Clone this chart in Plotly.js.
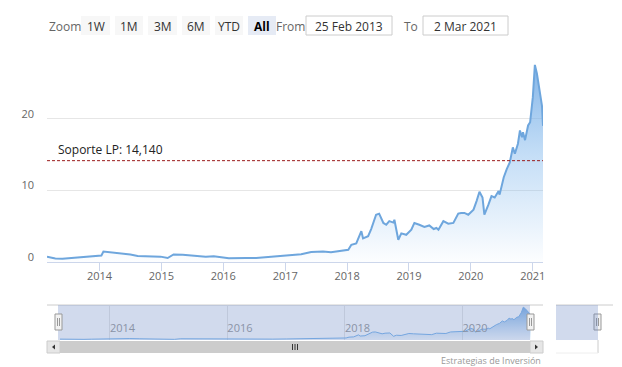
<!DOCTYPE html>
<html><head><meta charset="utf-8">
<script src="https://cdn.plot.ly/plotly-3.0.1.min.js"></script>
<style>html,body{margin:0;padding:0;background:#fff}#chart{width:622px;height:367px}</style>
</head><body><div id="chart"></div>
<script>
const dates = ['2013-02-25','2013-04-15','2013-05-27','2013-07-24','2013-09-10','2013-10-28','2013-12-25','2014-01-12','2014-01-24','2014-03-07','2014-05-05','2014-07-02','2014-08-14','2014-10-17','2014-12-27','2015-02-07','2015-03-14','2015-05-07','2015-07-23','2015-09-20','2015-11-06','2016-02-03','2016-05-15','2016-07-13','2016-10-10','2017-01-04','2017-03-07','2017-04-05','2017-06-03','2017-08-12','2017-09-28','2017-11-27','2018-01-08','2018-01-26','2018-02-24','2018-03-26','2018-04-05','2018-05-05','2018-05-23','2018-06-21','2018-07-09','2018-08-03','2018-08-20','2018-09-07','2018-10-01','2018-10-07','2018-10-30','2018-11-17','2018-12-16','2019-01-15','2019-02-02','2019-03-03','2019-04-02','2019-05-01','2019-05-27','2019-06-12','2019-06-24','2019-07-23','2019-08-21','2019-09-20','2019-10-19','2019-11-05','2019-11-24','2019-12-17','2020-01-17','2020-02-04','2020-02-21','2020-03-10','2020-03-21','2020-04-14','2020-05-02','2020-05-21','2020-06-13','2020-06-19','2020-07-13','2020-07-31','2020-08-18','2020-09-05','2020-09-17','2020-10-05','2020-10-17','2020-10-29','2020-11-04','2020-11-16','2020-12-04','2020-12-16','2021-01-01','2021-01-13','2021-01-25','2021-02-06','2021-02-18','2021-02-24','2021-03-02'];
const values = [0.75,0.5,0.46,0.55,0.7,0.8,0.85,0.9,1.45,1.35,1.2,1.05,0.85,0.8,0.75,0.55,1.05,1.0,0.9,0.75,0.8,0.52,0.55,0.56,0.75,0.89,1.0,1.08,1.4,1.45,1.35,1.5,1.7,2.4,2.6,4.3,3.3,3.6,4.6,6.6,6.75,5.45,5.2,5.7,5.5,5.9,3.1,4.0,3.8,4.5,5.45,5.2,4.9,5.1,4.6,4.75,4.5,5.7,5.35,5.45,6.75,6.85,6.85,6.6,7.3,8.5,9.8,9.0,6.6,8.0,9.2,9.0,9.9,9.4,11.8,12.95,13.9,16.0,15.1,16.5,18.35,17.4,18.1,17.0,19.05,19.5,23.0,27.5,26.3,24.5,22.6,21.8,19.0];
const xTickVals = ['2014-01-01','2015-01-01','2016-01-01','2017-01-01','2018-01-01','2019-01-01','2020-01-01','2021-01-01'];
const xTickText = ['2014','2015','2016','2017','2018','2019','2020','2021'];
const navTickVals = ['2014-01-01','2016-01-01','2018-01-01','2020-01-01'];
const navTickText = ['2014','2016','2018','2020'];
const yTickVals = [0,10,20,30];
const yTickText = ['0','10','20',''];
const supportValue = 14.14;
const supportLabel = 'Soporte LP: 14,140';
const zoomButtons = ['1W','1M','3M','6M','YTD','All'];
const fromDate = '25 Feb 2013';
const toDate = '2 Mar 2021';
const creditText = 'Estrategias de Inversión';

const W = 622, H = 367;
const X = p => p / W, Y = p => 1 - p / H;
const FONT = 'Open Sans, Arial, sans-serif';
const startDate = dates[0], endDate = dates[dates.length - 1];

const traces = [
  {x: dates, y: values, type: 'scatter', mode: 'lines', xaxis: 'x', yaxis: 'y',
   line: {color: '#6ea6dd', width: 2}, fill: 'tozeroy',
   fillgradient: {type: 'vertical', start: 0, stop: 30,
     colorscale: [[0, 'rgba(124,181,236,0.02)'], [0.5, 'rgba(124,181,236,0.45)'], [1, 'rgba(110,166,225,0.95)']]},
   hoverinfo: 'skip'},
  {x: dates, y: values, type: 'scatter', mode: 'lines', xaxis: 'x2', yaxis: 'y2',
   line: {color: '#7cb5ec', width: 1}, fill: 'tozeroy',
   fillgradient: {type: 'vertical', start: 0, stop: 28,
     colorscale: [[0, 'rgba(124,181,236,0.05)'], [1, 'rgba(110,166,225,0.9)']]},
   hoverinfo: 'skip'}
];

const shapes = [];
const annotations = [];
function rect(x0, y0, x1, y1, fill, line, lw, layer) {
  shapes.push({type: 'rect', xref: 'paper', yref: 'paper', x0: X(x0), x1: X(x1), y0: Y(y1), y1: Y(y0),
    fillcolor: fill, line: {color: line || 'rgba(0,0,0,0)', width: lw || 0}, layer: layer || 'above'});
}
function hline(x0, x1, y, color, w) {
  shapes.push({type: 'line', xref: 'paper', yref: 'paper', x0: X(x0), x1: X(x1), y0: Y(y), y1: Y(y), line: {color: color, width: w || 1}});
}
function vline(x, y0, y1, color, w) {
  shapes.push({type: 'line', xref: 'paper', yref: 'paper', x0: X(x), x1: X(x), y0: Y(y0), y1: Y(y1), line: {color: color, width: w || 1}});
}
function text(t, x, y, opts) {
  annotations.push(Object.assign({text: t, xref: 'paper', yref: 'paper', x: X(x), y: Y(y), showarrow: false,
    xanchor: 'left', yanchor: 'middle', font: {family: FONT, size: 12, color: '#333333'}}, opts || {}));
}

// support line
shapes.push({type: 'line', xref: 'paper', yref: 'y', x0: X(47), x1: X(543), y0: supportValue, y1: supportValue,
  line: {color: '#9b1c1c', width: 1, dash: '3px,2px'}});
annotations.push({text: supportLabel, xref: 'paper', yref: 'y', x: X(56), y: supportValue, yshift: 1,
  xanchor: 'left', yanchor: 'bottom', showarrow: false, font: {family: FONT, size: 12, color: '#222222'}});

// range selector
text('Zoom', 47, 26, {font: {family: FONT, size: 12, color: '#666666'}});
const btnX = [[81,110],[115,143],[148,177],[182,210],[215,243],[248,276]];
zoomButtons.forEach((b, i) => {
  const sel = i === zoomButtons.length - 1;
  rect(btnX[i][0], 16, btnX[i][1], 35, sel ? '#e6ebf5' : '#f7f7f7', null, 0, 'below');
  text(sel ? '<b>' + b + '</b>' : b, (btnX[i][0] + btnX[i][1]) / 2, 26,
       {xanchor: 'center', font: {family: FONT, size: 12, color: sel ? '#000000' : '#333333'}});
});
text('From', 274, 26, {font: {family: FONT, size: 12, color: '#666666'}});
rect(306, 16, 392, 35, '#ffffff', '#cccccc', 1, 'below');
text(fromDate, 349, 26, {xanchor: 'center'});
text('To', 402, 26, {font: {family: FONT, size: 12, color: '#666666'}});
rect(423, 16, 508, 35, '#ffffff', '#cccccc', 1, 'below');
text(toDate, 465.5, 26, {xanchor: 'center'});

// navigator
hline(47, 543, 305, '#cccccc');
rect(58, 305, 530, 340, 'rgba(102,133,194,0.3)', null, 0, 'above');
[[55,62],[527,534],[594,601]].forEach(h => {
  rect(h[0], 314, h[1], 330, '#f2f2f2', '#999999', 1, 'above');
  vline(h[0] + 2.5, 318, 326, '#999999');
  vline(h[0] + 4.5, 318, 326, '#999999');
});
// scrollbar
rect(47, 341, 543, 353, '#cccccc', null, 0, 'above');
rect(47, 341, 60, 353, '#e6e6e6', '#cccccc', 1, 'above');
rect(530, 341, 543, 353, '#e6e6e6', '#cccccc', 1, 'above');
shapes.push({type: 'path', xref: 'paper', yref: 'paper', path: `M ${X(52)} ${Y(347)} L ${X(55)} ${Y(344.5)} L ${X(55)} ${Y(349.5)} Z`, fillcolor: '#333333', line: {width: 0}});
shapes.push({type: 'path', xref: 'paper', yref: 'paper', path: `M ${X(538)} ${Y(347)} L ${X(535)} ${Y(344.5)} L ${X(535)} ${Y(349.5)} Z`, fillcolor: '#333333', line: {width: 0}});
[292.5, 295, 297.5].forEach(g => vline(g, 344, 350, '#333333'));
// extra navigator piece on the right
hline(556, 613, 305, '#cccccc');
rect(556, 305, 598, 340, 'rgba(102,133,194,0.3)', null, 0, 'above');
rect(556, 340, 598, 353, '#ffffff', null, 0, 'above');
vline(598, 340, 353, '#cccccc');
hline(556, 598, 353, '#eeeeee');

// credits
annotations.push({text: creditText, xref: 'paper', yref: 'paper', x: X(543), y: Y(360), xanchor: 'right', yanchor: 'middle',
  showarrow: false, font: {family: FONT, size: 9, color: '#999999'}});

const layout = {
  width: W, height: H, margin: {l: 0, r: 0, t: 0, b: 0},
  paper_bgcolor: '#ffffff', plot_bgcolor: 'rgba(0,0,0,0)', showlegend: false,
  font: {family: FONT, color: '#666666'},
  xaxis: {domain: [X(47), X(543)], type: 'date', range: [startDate, endDate], anchor: 'y',
    tickmode: 'array', tickvals: xTickVals, ticktext: xTickText, showgrid: false, zeroline: false,
    showline: true, linecolor: '#ccd6eb', linewidth: 1, ticks: 'outside', ticklen: 8, tickcolor: '#ccd6eb',
    ticklabelstandoff: -4,
    tickfont: {family: FONT, size: 11, color: '#666666'}, fixedrange: true},
  yaxis: {domain: [Y(262), Y(47)], range: [0, 30], anchor: 'x',
    tickmode: 'array', tickvals: yTickVals, ticktext: yTickText, showgrid: true, gridcolor: '#e6e6e6',
    zeroline: false, showline: false, ticks: '', ticklabelstandoff: 12, ticklabelshift: -5,
    tickfont: {family: FONT, size: 11, color: '#666666'}, fixedrange: true},
  xaxis2: {domain: [X(60), X(531)], type: 'date', range: [startDate, endDate], anchor: 'y2',
    tickmode: 'array', tickvals: navTickVals, ticktext: navTickText, showgrid: true, gridcolor: '#e6e6e6',
    zeroline: false, showline: false, ticks: '', ticklabelposition: 'inside right',
    tickfont: {family: FONT, size: 11, color: '#999999'}, fixedrange: true},
  yaxis2: {domain: [Y(340), Y(306)], range: [0, 28.5], anchor: 'x2', visible: false, showgrid: false, fixedrange: true},
  shapes: shapes, annotations: annotations
};
Plotly.newPlot('chart', traces, layout, {displayModeBar: false, staticPlot: true});
</script></body></html>
